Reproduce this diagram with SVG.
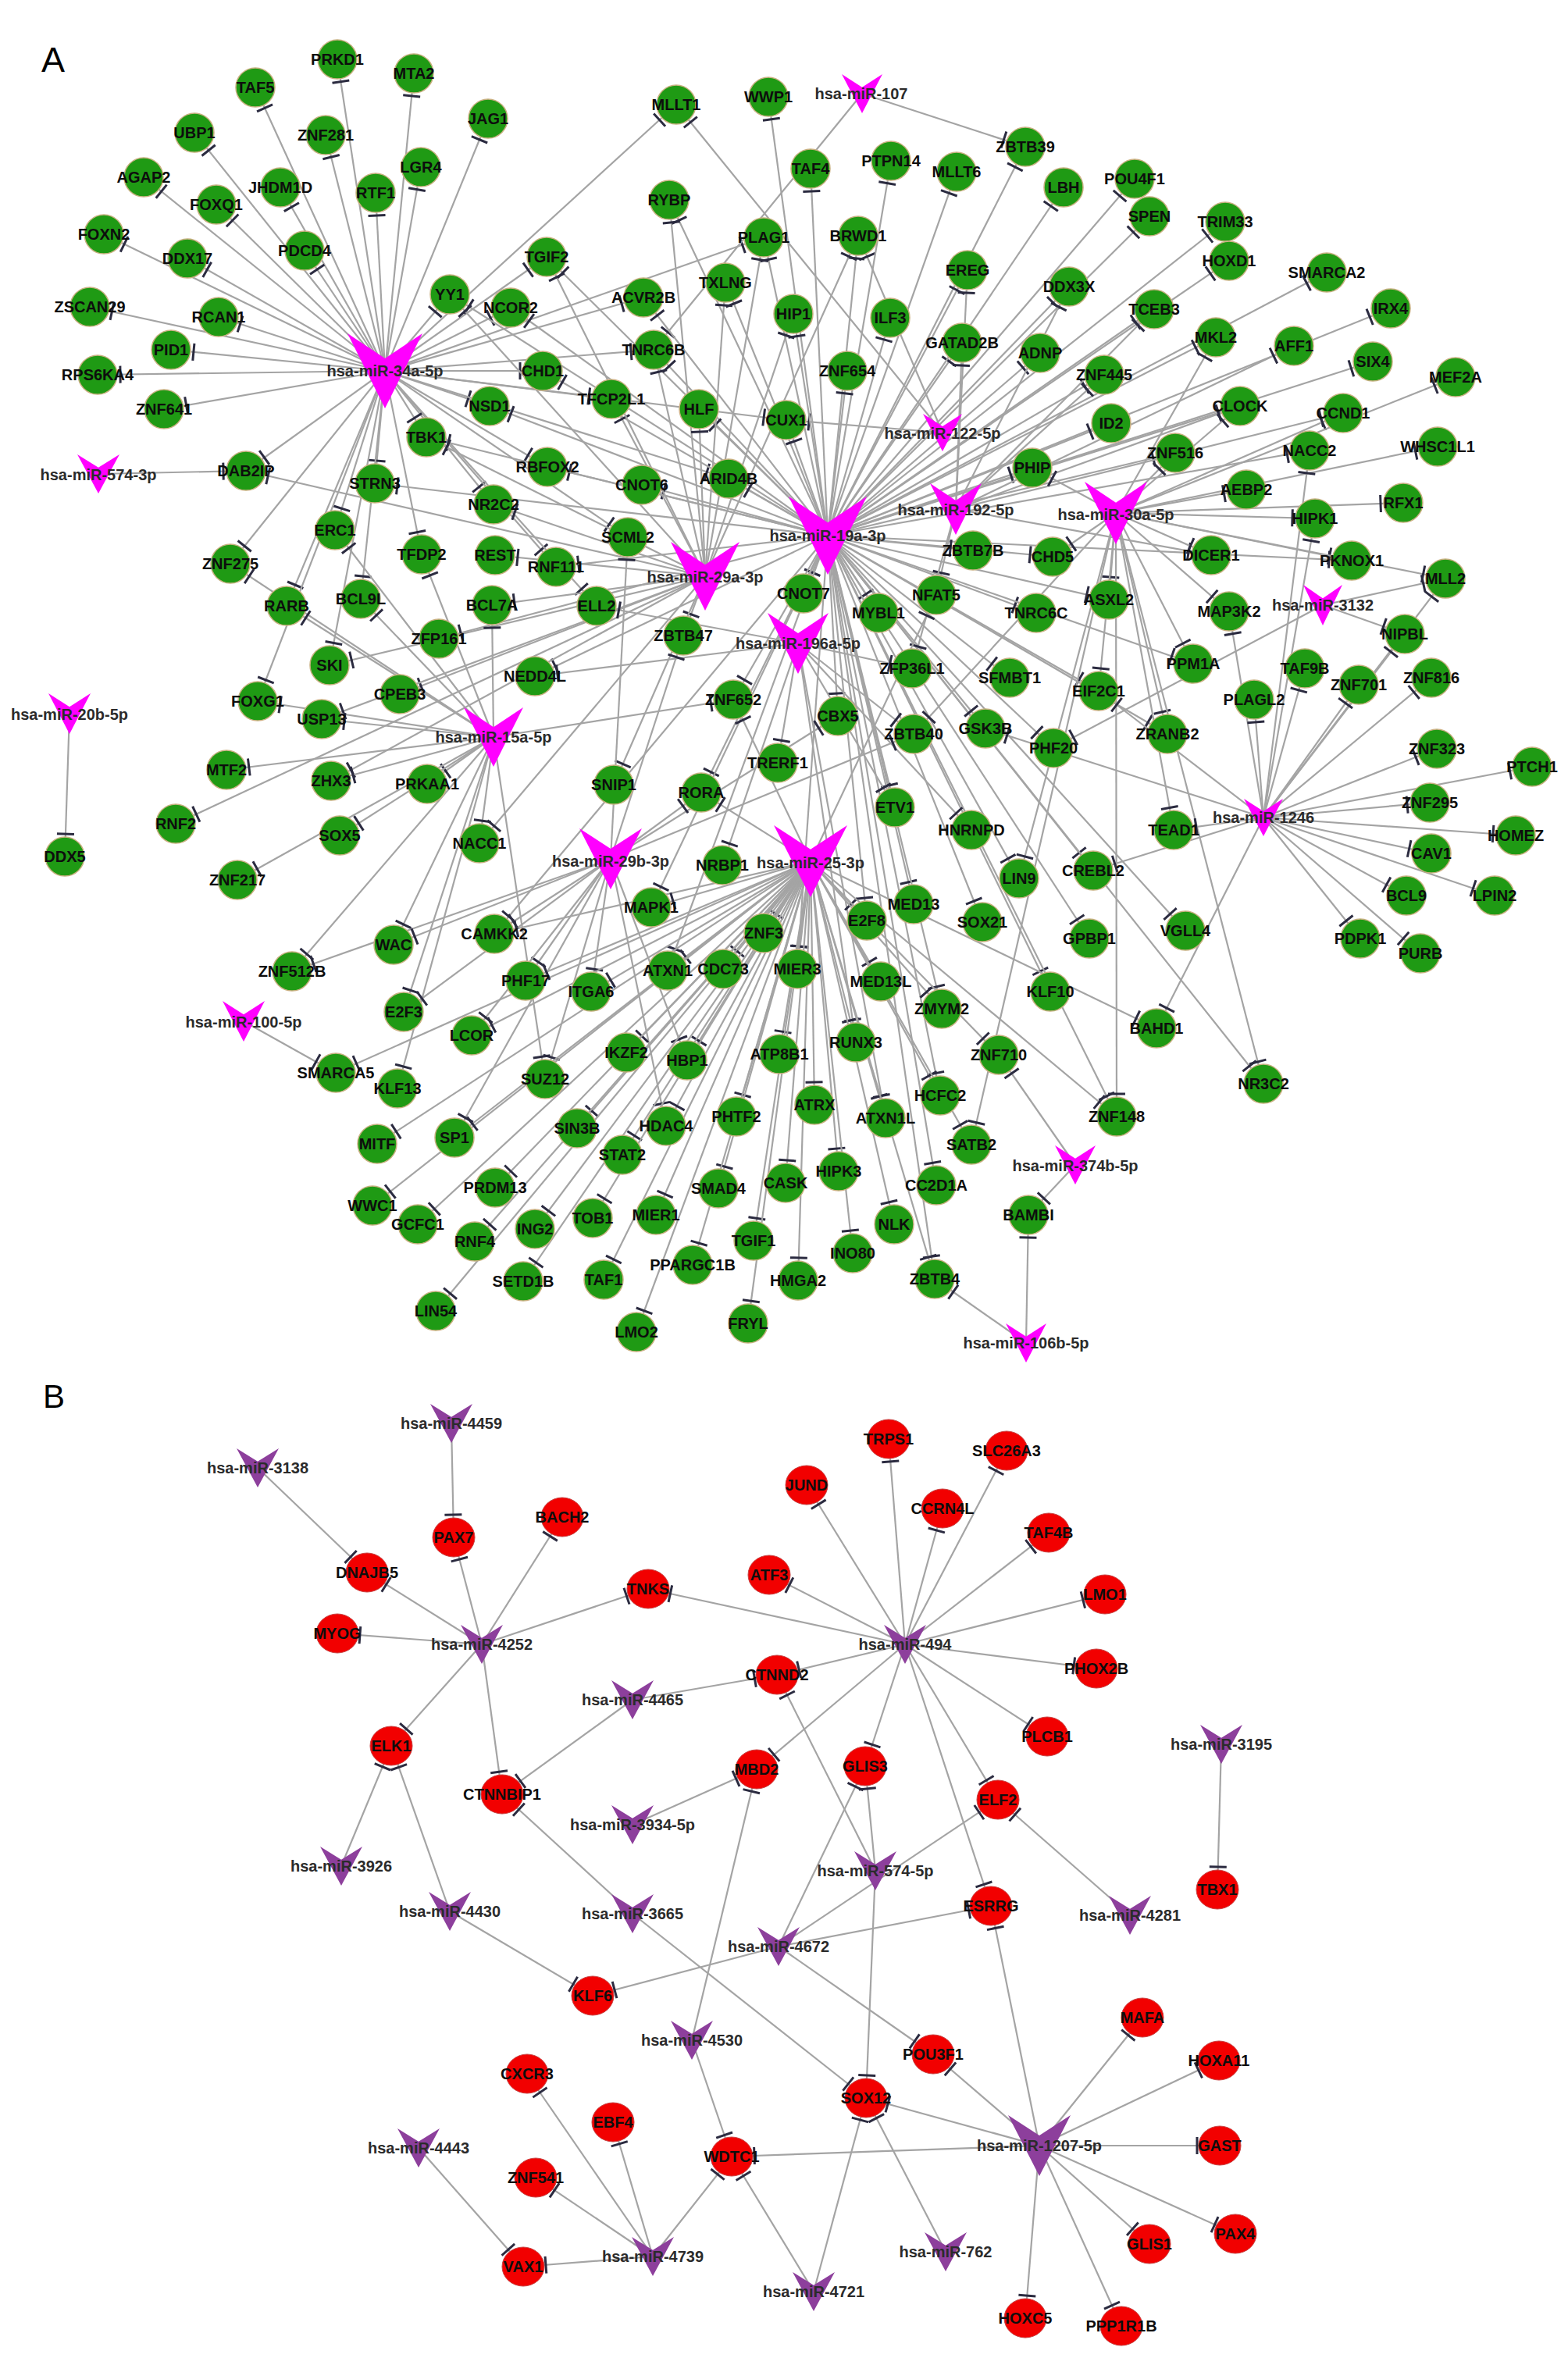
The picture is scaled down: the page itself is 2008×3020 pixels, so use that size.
<svg xmlns="http://www.w3.org/2000/svg" width="2008" height="3020" viewBox="0 0 2008 3020">
<style>
.n circle{fill:#1f9a14;stroke:#c8b080;stroke-width:1.5}
.r ellipse{fill:#f20000;stroke:#c84040;stroke-width:1}
.h use{fill:#ff00ff}
.q use{fill:#8d3f9c}
text{font-family:"Liberation Sans",Arial,sans-serif;font-weight:bold;font-size:20px;text-anchor:middle;fill:#0d0d0d}
.h text,.q text{fill:#2b2b2b}
.e path{stroke:#a4a4a4;stroke-width:2.2;fill:none;marker-end:url(#tb)}
.lab{font-weight:normal;font-size:45px;text-anchor:start;fill:#000}
</style>
<defs>
<path id="v" d="M-1,-1 L0,-0.3333 L1,-1 L0,1Z"/>
<marker id="tb" viewBox="-40 -14 40 28" refX="0" refY="0" markerWidth="40" markerHeight="28" markerUnits="userSpaceOnUse" orient="auto"><path d="M-29,-11V11" stroke="#2b2b40" stroke-width="3"/></marker>
</defs>
<rect width="2008" height="3020" fill="#fff"/>
<text class="lab" x="53" y="92">A</text>
<text class="lab" x="55" y="1803" style="font-size:42px">B</text>
<g id="connectors" class="e">
<g id="e-34a">
<path d="M493 475L432 76"/><path d="M493 475L530 94"/><path d="M493 475L327 112"/><path d="M493 475L625 152"/><path d="M493 475L249 170"/><path d="M493 475L417 173"/><path d="M493 475L539 214"/><path d="M493 475L184 227"/><path d="M493 475L359 240"/><path d="M493 475L481 247"/><path d="M493 475L277 262"/><path d="M493 475L133 300"/><path d="M493 475L390 321"/><path d="M493 475L240 331"/><path d="M493 475L115 393"/><path d="M493 475L280 406"/><path d="M493 475L219 448"/><path d="M493 475L125 480"/><path d="M493 475L210 524"/><path d="M493 475L576 377"/><path d="M493 475L654 394"/><path d="M493 475L700 329"/><path d="M493 475L627 520"/><path d="M493 475L695 475"/><path d="M493 475L866 134"/><path d="M493 475L978 304"/><path d="M493 475L824 381"/><path d="M493 475L837 448"/><path d="M493 475L783 511"/><path d="M493 475L1007 538"/><path d="M493 475L315 603"/><path d="M493 475L480 619"/><path d="M493 475L632 646"/><path d="M493 475L429 679"/><path d="M493 475L295 722"/><path d="M493 475L540 710"/><path d="M493 475L367 776"/><path d="M493 475L462 767"/><path d="M493 475L422 852"/><path d="M493 475L330 898"/><path d="M493 475L701 598"/><path d="M493 475L933 613"/><path d="M493 475L804 688"/><path d="M493 475L712 726"/><path d="M493 475L764 776"/><path d="M493 475L546 560"/>
</g>
<g id="e-small">
<path d="M1104 120L837 448"/><path d="M1104 120L1313 188"/>
<path d="M1207 554L866 134"/><path d="M1207 554L1099 302"/><path d="M1207 554L1007 538"/>
<path d="M126 607L315 603"/>
<path d="M89 914L83 1097"/>
<path d="M312 1308L430 1374"/>
<path d="M1694 775L1851 741"/><path d="M1694 775L1799 812"/><path d="M1694 775L1349 958"/>
<path d="M1377 1492L1279 1351"/><path d="M1377 1492L1317 1556"/>
<path d="M1314 1720L1317 1556"/><path d="M1314 1720L1197 1638"/>
</g>
<g id="e-19a">
<path d="M1060 686L576 377"/><path d="M1060 686L654 394"/><path d="M1060 686L700 329"/><path d="M1060 686L695 475"/><path d="M1060 686L627 520"/><path d="M1060 686L984 124"/><path d="M1060 686L1038 216"/><path d="M1060 686L1141 206"/><path d="M1060 686L1225 220"/><path d="M1060 686L1313 188"/><path d="M1060 686L857 256"/><path d="M1060 686L978 304"/><path d="M1060 686L1099 302"/><path d="M1060 686L1239 346"/><path d="M1060 686L929 362"/><path d="M1060 686L824 381"/><path d="M1060 686L837 448"/><path d="M1060 686L1016 402"/><path d="M1060 686L1140 407"/><path d="M1060 686L1232 439"/><path d="M1060 686L1085 475"/><path d="M1060 686L895 524"/><path d="M1060 686L1007 538"/><path d="M1060 686L1332 452"/><path d="M1060 686L1369 367"/><path d="M1060 686L1362 240"/><path d="M1060 686L1453 229"/><path d="M1060 686L1472 277"/><path d="M1060 686L1569 284"/><path d="M1060 686L1574 334"/><path d="M1060 686L1699 349"/><path d="M1060 686L1478 396"/><path d="M1060 686L1781 395"/><path d="M1060 686L1557 432"/><path d="M1060 686L1758 463"/><path d="M1060 686L1414 480"/><path d="M1060 686L1588 520"/><path d="M1060 686L1423 542"/><path d="M1060 686L1505 580"/><path d="M1060 686L1677 577"/><path d="M1060 686L1322 599"/><path d="M1060 686L1348 713"/><path d="M1060 686L1731 718"/><path d="M1060 686L1420 768"/><path d="M1060 686L1327 785"/><path d="M1060 686L1407 885"/><path d="M1060 686L1495 940"/><path d="M1060 686L1349 958"/><path d="M1060 686L1400 1115"/><path d="M1060 686L1395 1202"/><path d="M1060 686L1518 1192"/><path d="M1060 686L1345 1270"/><path d="M1060 686L1618 1388"/><path d="M1060 686L1430 1430"/><path d="M1060 686L480 619"/><path d="M1060 686L701 598"/><path d="M1060 686L822 621"/><path d="M1060 686L933 613"/><path d="M1060 686L712 726"/><path d="M1060 686L1029 760"/><path d="M1060 686L1125 785"/><path d="M1060 686L1246 705"/><path d="M1060 686L562 818"/><path d="M1060 686L685 866"/><path d="M1060 686L1293 868"/><path d="M1060 686L939 896"/><path d="M1060 686L1073 917"/><path d="M1060 686L1262 933"/><path d="M1060 686L898 1015"/><path d="M1060 686L1146 1034"/><path d="M1060 686L1305 1125"/><path d="M1060 686L834 1162"/><path d="M1060 686L1170 1158"/><path d="M1060 686L1110 1179"/><path d="M1060 686L1258 1181"/><path d="M1060 686L855 1243"/><path d="M1060 686L1021 1241"/><path d="M1060 686L1206 1292"/><path d="M1060 686L1204 1403"/><path d="M1060 686L1199 1518"/><path d="M1060 686L1197 1638"/><path d="M1060 686L546 560"/><path d="M1060 686L633 1196"/><path d="M1060 686L1528 850"/>
</g>
<g id="e-192">
<path d="M1224 652L1239 346"/><path d="M1224 652L1232 439"/><path d="M1224 652L1369 367"/><path d="M1224 652L1478 396"/><path d="M1224 652L1414 480"/><path d="M1224 652L1588 520"/><path d="M1224 652L1720 529"/><path d="M1224 652L1657 443"/><path d="M1224 652L1551 711"/><path d="M1224 652L1199 762"/><path d="M1224 652L1168 856"/>
</g>
<g id="e-30a">
<path d="M1429 657L1557 432"/><path d="M1429 657L1588 520"/><path d="M1429 657L1720 529"/><path d="M1429 657L1864 483"/><path d="M1429 657L1505 580"/><path d="M1429 657L1841 572"/><path d="M1429 657L1322 599"/><path d="M1429 657L1596 627"/><path d="M1429 657L1797 644"/><path d="M1429 657L1684 664"/><path d="M1429 657L1348 713"/><path d="M1429 657L1551 711"/><path d="M1429 657L1731 718"/><path d="M1429 657L1851 741"/><path d="M1429 657L1420 768"/><path d="M1429 657L1574 783"/><path d="M1429 657L1528 850"/><path d="M1429 657L1407 885"/><path d="M1429 657L1495 940"/><path d="M1429 657L1503 1063"/><path d="M1429 657L1618 1388"/><path d="M1429 657L1430 1430"/><path d="M1429 657L1170 940"/><path d="M1429 657L1244 1466"/><path d="M1429 657L1305 1125"/>
</g>
<g id="e-29a">
<path d="M903 738L857 256"/><path d="M903 738L978 304"/><path d="M903 738L1099 302"/><path d="M903 738L929 362"/><path d="M903 738L837 448"/><path d="M903 738L1016 402"/><path d="M903 738L783 511"/><path d="M903 738L895 524"/><path d="M903 738L700 329"/><path d="M903 738L315 603"/><path d="M903 738L632 646"/><path d="M903 738L634 711"/><path d="M903 738L630 775"/><path d="M903 738L422 852"/><path d="M903 738L512 889"/><path d="M903 738L412 921"/><path d="M903 738L424 1000"/><path d="M903 738L225 1055"/><path d="M903 738L614 1080"/><path d="M903 738L875 814"/><path d="M903 738L786 1005"/><path d="M903 738L546 560"/><path d="M903 738L576 377"/>
</g>
<g id="e-196a">
<path d="M1022 824L764 776"/><path d="M1022 824L1168 856"/><path d="M1022 824L996 977"/><path d="M1022 824L1244 1063"/><path d="M1022 824L925 1108"/><path d="M1022 824L1146 1034"/><path d="M1022 824L1170 940"/><path d="M1022 824L1096 1335"/><path d="M1022 824L685 866"/><path d="M1022 824L1134 1432"/>
</g>
<g id="e-15a">
<path d="M632 944L429 679"/><path d="M632 944L295 722"/><path d="M632 944L540 710"/><path d="M632 944L367 776"/><path d="M632 944L462 767"/><path d="M632 944L630 775"/><path d="M632 944L330 898"/><path d="M632 944L412 921"/><path d="M632 944L290 986"/><path d="M632 944L424 1000"/><path d="M632 944L547 1004"/><path d="M632 944L435 1070"/><path d="M632 944L614 1080"/><path d="M632 944L304 1127"/><path d="M632 944L509 1394"/><path d="M632 944L517 1296"/><path d="M632 944L374 1244"/><path d="M632 944L504 1210"/><path d="M632 944L698 1382"/><path d="M632 944L939 896"/>
</g>
<g id="e-1246">
<path d="M1618 1047L1677 577"/><path d="M1618 1047L1684 664"/><path d="M1618 1047L1851 741"/><path d="M1618 1047L1574 783"/><path d="M1618 1047L1799 812"/><path d="M1618 1047L1671 856"/><path d="M1618 1047L1740 877"/><path d="M1618 1047L1833 868"/><path d="M1618 1047L1407 885"/><path d="M1618 1047L1606 896"/><path d="M1618 1047L1840 959"/><path d="M1618 1047L1962 982"/><path d="M1618 1047L1831 1028"/><path d="M1618 1047L1503 1063"/><path d="M1618 1047L1941 1070"/><path d="M1618 1047L1833 1093"/><path d="M1618 1047L1400 1115"/><path d="M1618 1047L1801 1147"/><path d="M1618 1047L1914 1147"/><path d="M1618 1047L1742 1202"/><path d="M1618 1047L1819 1221"/><path d="M1618 1047L1481 1317"/><path d="M1618 1047L1262 933"/>
</g>
<g id="e-29b">
<path d="M782 1100L804 688"/><path d="M782 1100L875 814"/><path d="M782 1100L1073 917"/><path d="M782 1100L1170 940"/><path d="M782 1100L898 1015"/><path d="M782 1100L673 1256"/><path d="M782 1100L757 1270"/><path d="M782 1100L880 1358"/><path d="M782 1100L698 1382"/><path d="M782 1100L853 1442"/><path d="M782 1100L582 1457"/><path d="M782 1100L517 1296"/><path d="M782 1100L374 1244"/><path d="M782 1100L504 1210"/><path d="M782 1100L633 1196"/><path d="M782 1100L604 1326"/>
</g>
<g id="e-25">
<path d="M1038 1103L1199 762"/><path d="M1038 1103L939 896"/><path d="M1038 1103L898 1015"/><path d="M1038 1103L978 1195"/><path d="M1038 1103L1110 1179"/><path d="M1038 1103L855 1243"/><path d="M1038 1103L926 1241"/><path d="M1038 1103L1021 1241"/><path d="M1038 1103L1128 1257"/><path d="M1038 1103L1206 1292"/><path d="M1038 1103L1096 1335"/><path d="M1038 1103L802 1348"/><path d="M1038 1103L880 1358"/><path d="M1038 1103L998 1350"/><path d="M1038 1103L1279 1351"/><path d="M1038 1103L1204 1403"/><path d="M1038 1103L1043 1415"/><path d="M1038 1103L943 1430"/><path d="M1038 1103L1134 1432"/><path d="M1038 1103L1244 1466"/><path d="M1038 1103L739 1445"/><path d="M1038 1103L853 1442"/><path d="M1038 1103L797 1479"/><path d="M1038 1103L1074 1500"/><path d="M1038 1103L1006 1515"/><path d="M1038 1103L920 1522"/><path d="M1038 1103L759 1560"/><path d="M1038 1103L840 1556"/><path d="M1038 1103L1145 1568"/><path d="M1038 1103L965 1589"/><path d="M1038 1103L1092 1605"/><path d="M1038 1103L887 1620"/><path d="M1038 1103L773 1639"/><path d="M1038 1103L1022 1640"/><path d="M1038 1103L815 1706"/><path d="M1038 1103L958 1695"/><path d="M1038 1103L685 1574"/><path d="M1038 1103L670 1641"/><path d="M1038 1103L608 1590"/><path d="M1038 1103L634 1521"/><path d="M1038 1103L558 1679"/><path d="M1038 1103L535 1568"/><path d="M1038 1103L477 1544"/><path d="M1038 1103L483 1465"/><path d="M1038 1103L582 1457"/><path d="M1038 1103L430 1374"/><path d="M1038 1103L604 1326"/><path d="M1038 1103L757 1270"/><path d="M1038 1103L673 1256"/><path d="M1038 1103L633 1196"/><path d="M1038 1103L1481 1317"/><path d="M1038 1103L1430 1430"/><path d="M1038 1103L834 1162"/><path d="M1038 1103L1197 1638"/>
</g>
<g id="e-B">
<path d="M578 1823L581 1969"/>
<path d="M330 1880L470 2014"/>
<path d="M617 2106L581 1969"/><path d="M617 2106L720 1943"/><path d="M617 2106L470 2014"/><path d="M617 2106L432 2092"/><path d="M617 2106L830 2035"/><path d="M617 2106L501 2236"/><path d="M617 2106L643 2298"/>
<path d="M1159 2106L830 2035"/><path d="M1159 2106L985 2017"/><path d="M1159 2106L1033 1902"/><path d="M1159 2106L1138 1843"/><path d="M1159 2106L1207 1932"/><path d="M1159 2106L1289 1858"/><path d="M1159 2106L1343 1963"/><path d="M1159 2106L1415 2042"/><path d="M1159 2106L1404 2137"/><path d="M1159 2106L1341 2224"/><path d="M1159 2106L1278 2305"/><path d="M1159 2106L1269 2441"/><path d="M1159 2106L1108 2262"/><path d="M1159 2106L995 2145"/><path d="M1159 2106L969 2266"/>
<path d="M810 2177L995 2145"/><path d="M810 2177L643 2298"/>
<path d="M810 2337L969 2266"/>
<path d="M886 2613L969 2266"/><path d="M886 2613L937 2762"/>
<path d="M437 2390L501 2236"/>
<path d="M576 2448L501 2236"/><path d="M576 2448L759 2556"/>
<path d="M997 2493L759 2556"/><path d="M997 2493L1108 2262"/><path d="M997 2493L1269 2441"/><path d="M997 2493L1195 2631"/><path d="M997 2493L1278 2305"/>
<path d="M810 2451L643 2298"/><path d="M810 2451L1109 2687"/>
<path d="M1121 2396L995 2145"/><path d="M1121 2396L1108 2262"/><path d="M1121 2396L1109 2687"/>
<path d="M1447 2453L1278 2305"/>
<path d="M1564 2234L1559 2420"/>
<path d="M836 2890L670 2903"/><path d="M836 2890L686 2789"/><path d="M836 2890L675 2656"/><path d="M836 2890L785 2718"/><path d="M836 2890L937 2762"/>
<path d="M536 2751L670 2903"/>
<path d="M1331 2748L937 2762"/><path d="M1331 2748L1109 2687"/><path d="M1331 2748L1195 2631"/><path d="M1331 2748L1269 2441"/><path d="M1331 2748L1463 2584"/><path d="M1331 2748L1561 2639"/><path d="M1331 2748L1562 2748"/><path d="M1331 2748L1582 2861"/><path d="M1331 2748L1472 2874"/><path d="M1331 2748L1436 2979"/><path d="M1331 2748L1313 2969"/>
<path d="M1211 2884L1109 2687"/>
<path d="M1042 2935L937 2762"/><path d="M1042 2935L1109 2687"/>
</g>
</g>
<g id="nodesA">
<g id="PRKD1" class="n"><circle cx="432" cy="76" r="25"/><text x="432" y="83">PRKD1</text></g>
<g id="MTA2" class="n"><circle cx="530" cy="94" r="25"/><text x="530" y="101">MTA2</text></g>
<g id="TAF5" class="n"><circle cx="327" cy="112" r="25"/><text x="327" y="119">TAF5</text></g>
<g id="JAG1" class="n"><circle cx="625" cy="152" r="25"/><text x="625" y="159">JAG1</text></g>
<g id="UBP1" class="n"><circle cx="249" cy="170" r="25"/><text x="249" y="177">UBP1</text></g>
<g id="ZNF281" class="n"><circle cx="417" cy="173" r="25"/><text x="417" y="180">ZNF281</text></g>
<g id="LGR4" class="n"><circle cx="539" cy="214" r="25"/><text x="539" y="221">LGR4</text></g>
<g id="AGAP2" class="n"><circle cx="184" cy="227" r="25"/><text x="184" y="234">AGAP2</text></g>
<g id="JHDM1D" class="n"><circle cx="359" cy="240" r="25"/><text x="359" y="247">JHDM1D</text></g>
<g id="RTF1" class="n"><circle cx="481" cy="247" r="25"/><text x="481" y="254">RTF1</text></g>
<g id="FOXQ1" class="n"><circle cx="277" cy="262" r="25"/><text x="277" y="269">FOXQ1</text></g>
<g id="FOXN2" class="n"><circle cx="133" cy="300" r="25"/><text x="133" y="307">FOXN2</text></g>
<g id="PDCD4" class="n"><circle cx="390" cy="321" r="25"/><text x="390" y="328">PDCD4</text></g>
<g id="DDX17" class="n"><circle cx="240" cy="331" r="25"/><text x="240" y="338">DDX17</text></g>
<g id="ZSCAN29" class="n"><circle cx="115" cy="393" r="25"/><text x="115" y="400">ZSCAN29</text></g>
<g id="RCAN1" class="n"><circle cx="280" cy="406" r="25"/><text x="280" y="413">RCAN1</text></g>
<g id="YY1" class="n"><circle cx="576" cy="377" r="25"/><text x="576" y="384">YY1</text></g>
<g id="NCOR2" class="n"><circle cx="654" cy="394" r="25"/><text x="654" y="401">NCOR2</text></g>
<g id="TGIF2" class="n"><circle cx="700" cy="329" r="25"/><text x="700" y="336">TGIF2</text></g>
<g id="PID1" class="n"><circle cx="219" cy="448" r="25"/><text x="219" y="455">PID1</text></g>
<g id="RPS6KA4" class="n"><circle cx="125" cy="480" r="25"/><text x="125" y="487">RPS6KA4</text></g>
<g id="ZNF641" class="n"><circle cx="210" cy="524" r="25"/><text x="210" y="531">ZNF641</text></g>
<g id="NSD1" class="n"><circle cx="627" cy="520" r="25"/><text x="627" y="527">NSD1</text></g>
<g id="TBK1" class="n"><circle cx="546" cy="560" r="25"/><text x="546" y="567">TBK1</text></g>
<g id="CHD1" class="n"><circle cx="695" cy="475" r="25"/><text x="695" y="482">CHD1</text></g>
<g id="MLLT1" class="n"><circle cx="866" cy="134" r="25"/><text x="866" y="141">MLLT1</text></g>
<g id="WWP1" class="n"><circle cx="984" cy="124" r="25"/><text x="984" y="131">WWP1</text></g>
<g id="ZBTB39" class="n"><circle cx="1313" cy="188" r="25"/><text x="1313" y="195">ZBTB39</text></g>
<g id="TAF4" class="n"><circle cx="1038" cy="216" r="25"/><text x="1038" y="223">TAF4</text></g>
<g id="PTPN14" class="n"><circle cx="1141" cy="206" r="25"/><text x="1141" y="213">PTPN14</text></g>
<g id="MLLT6" class="n"><circle cx="1225" cy="220" r="25"/><text x="1225" y="227">MLLT6</text></g>
<g id="RYBP" class="n"><circle cx="857" cy="256" r="25"/><text x="857" y="263">RYBP</text></g>
<g id="PLAG1" class="n"><circle cx="978" cy="304" r="25"/><text x="978" y="311">PLAG1</text></g>
<g id="BRWD1" class="n"><circle cx="1099" cy="302" r="25"/><text x="1099" y="309">BRWD1</text></g>
<g id="EREG" class="n"><circle cx="1239" cy="346" r="25"/><text x="1239" y="353">EREG</text></g>
<g id="TXLNG" class="n"><circle cx="929" cy="362" r="25"/><text x="929" y="369">TXLNG</text></g>
<g id="ACVR2B" class="n"><circle cx="824" cy="381" r="25"/><text x="824" y="388">ACVR2B</text></g>
<g id="HIP1" class="n"><circle cx="1016" cy="402" r="25"/><text x="1016" y="409">HIP1</text></g>
<g id="ILF3" class="n"><circle cx="1140" cy="407" r="25"/><text x="1140" y="414">ILF3</text></g>
<g id="GATAD2B" class="n"><circle cx="1232" cy="439" r="25"/><text x="1232" y="446">GATAD2B</text></g>
<g id="TNRC6B" class="n"><circle cx="837" cy="448" r="25"/><text x="837" y="455">TNRC6B</text></g>
<g id="ZNF654" class="n"><circle cx="1085" cy="475" r="25"/><text x="1085" y="482">ZNF654</text></g>
<g id="TFCP2L1" class="n"><circle cx="783" cy="511" r="25"/><text x="783" y="518">TFCP2L1</text></g>
<g id="HLF" class="n"><circle cx="895" cy="524" r="25"/><text x="895" y="531">HLF</text></g>
<g id="CUX1" class="n"><circle cx="1007" cy="538" r="25"/><text x="1007" y="545">CUX1</text></g>
<g id="LBH" class="n"><circle cx="1362" cy="240" r="25"/><text x="1362" y="247">LBH</text></g>
<g id="POU4F1" class="n"><circle cx="1453" cy="229" r="25"/><text x="1453" y="236">POU4F1</text></g>
<g id="SPEN" class="n"><circle cx="1472" cy="277" r="25"/><text x="1472" y="284">SPEN</text></g>
<g id="TRIM33" class="n"><circle cx="1569" cy="284" r="25"/><text x="1569" y="291">TRIM33</text></g>
<g id="HOXD1" class="n"><circle cx="1574" cy="334" r="25"/><text x="1574" y="341">HOXD1</text></g>
<g id="SMARCA2" class="n"><circle cx="1699" cy="349" r="25"/><text x="1699" y="356">SMARCA2</text></g>
<g id="DDX3X" class="n"><circle cx="1369" cy="367" r="25"/><text x="1369" y="374">DDX3X</text></g>
<g id="TCEB3" class="n"><circle cx="1478" cy="396" r="25"/><text x="1478" y="403">TCEB3</text></g>
<g id="IRX4" class="n"><circle cx="1781" cy="395" r="25"/><text x="1781" y="402">IRX4</text></g>
<g id="MKL2" class="n"><circle cx="1557" cy="432" r="25"/><text x="1557" y="439">MKL2</text></g>
<g id="AFF1" class="n"><circle cx="1657" cy="443" r="25"/><text x="1657" y="450">AFF1</text></g>
<g id="ADNP" class="n"><circle cx="1332" cy="452" r="25"/><text x="1332" y="459">ADNP</text></g>
<g id="SIX4" class="n"><circle cx="1758" cy="463" r="25"/><text x="1758" y="470">SIX4</text></g>
<g id="ZNF445" class="n"><circle cx="1414" cy="480" r="25"/><text x="1414" y="487">ZNF445</text></g>
<g id="MEF2A" class="n"><circle cx="1864" cy="483" r="25"/><text x="1864" y="490">MEF2A</text></g>
<g id="CLOCK" class="n"><circle cx="1588" cy="520" r="25"/><text x="1588" y="527">CLOCK</text></g>
<g id="CCND1" class="n"><circle cx="1720" cy="529" r="25"/><text x="1720" y="536">CCND1</text></g>
<g id="ID2" class="n"><circle cx="1423" cy="542" r="25"/><text x="1423" y="549">ID2</text></g>
<g id="ZNF516" class="n"><circle cx="1505" cy="580" r="25"/><text x="1505" y="587">ZNF516</text></g>
<g id="NACC2" class="n"><circle cx="1677" cy="577" r="25"/><text x="1677" y="584">NACC2</text></g>
<g id="WHSC1L1" class="n"><circle cx="1841" cy="572" r="25"/><text x="1841" y="579">WHSC1L1</text></g>
<g id="PHIP" class="n"><circle cx="1322" cy="599" r="25"/><text x="1322" y="606">PHIP</text></g>
<g id="DAB2IP" class="n"><circle cx="315" cy="603" r="25"/><text x="315" y="610">DAB2IP</text></g>
<g id="STRN3" class="n"><circle cx="480" cy="619" r="25"/><text x="480" y="626">STRN3</text></g>
<g id="NR2C2" class="n"><circle cx="632" cy="646" r="25"/><text x="632" y="653">NR2C2</text></g>
<g id="ERC1" class="n"><circle cx="429" cy="679" r="25"/><text x="429" y="686">ERC1</text></g>
<g id="ZNF275" class="n"><circle cx="295" cy="722" r="25"/><text x="295" y="729">ZNF275</text></g>
<g id="TFDP2" class="n"><circle cx="540" cy="710" r="25"/><text x="540" y="717">TFDP2</text></g>
<g id="REST" class="n"><circle cx="634" cy="711" r="25"/><text x="634" y="718">REST</text></g>
<g id="RARB" class="n"><circle cx="367" cy="776" r="25"/><text x="367" y="783">RARB</text></g>
<g id="BCL9L" class="n"><circle cx="462" cy="767" r="25"/><text x="462" y="774">BCL9L</text></g>
<g id="BCL7A" class="n"><circle cx="630" cy="775" r="25"/><text x="630" y="782">BCL7A</text></g>
<g id="ZFP161" class="n"><circle cx="562" cy="818" r="25"/><text x="562" y="825">ZFP161</text></g>
<g id="SKI" class="n"><circle cx="422" cy="852" r="25"/><text x="422" y="859">SKI</text></g>
<g id="NEDD4L" class="n"><circle cx="685" cy="866" r="25"/><text x="685" y="873">NEDD4L</text></g>
<g id="CPEB3" class="n"><circle cx="512" cy="889" r="25"/><text x="512" y="896">CPEB3</text></g>
<g id="FOXG1" class="n"><circle cx="330" cy="898" r="25"/><text x="330" y="905">FOXG1</text></g>
<g id="USP13" class="n"><circle cx="412" cy="921" r="25"/><text x="412" y="928">USP13</text></g>
<g id="MTF2" class="n"><circle cx="290" cy="986" r="25"/><text x="290" y="993">MTF2</text></g>
<g id="ZHX3" class="n"><circle cx="424" cy="1000" r="25"/><text x="424" y="1007">ZHX3</text></g>
<g id="PRKAA1" class="n"><circle cx="547" cy="1004" r="25"/><text x="547" y="1011">PRKAA1</text></g>
<g id="RNF2" class="n"><circle cx="225" cy="1055" r="25"/><text x="225" y="1062">RNF2</text></g>
<g id="SOX5" class="n"><circle cx="435" cy="1070" r="25"/><text x="435" y="1077">SOX5</text></g>
<g id="NACC1" class="n"><circle cx="614" cy="1080" r="25"/><text x="614" y="1087">NACC1</text></g>
<g id="DDX5" class="n"><circle cx="83" cy="1097" r="25"/><text x="83" y="1104">DDX5</text></g>
<g id="ZNF217" class="n"><circle cx="304" cy="1127" r="25"/><text x="304" y="1134">ZNF217</text></g>
<g id="RBFOX2" class="n"><circle cx="701" cy="598" r="25"/><text x="701" y="605">RBFOX2</text></g>
<g id="CNOT6" class="n"><circle cx="822" cy="621" r="25"/><text x="822" y="628">CNOT6</text></g>
<g id="ARID4B" class="n"><circle cx="933" cy="613" r="25"/><text x="933" y="620">ARID4B</text></g>
<g id="SCML2" class="n"><circle cx="804" cy="688" r="25"/><text x="804" y="695">SCML2</text></g>
<g id="RNF111" class="n"><circle cx="712" cy="726" r="25"/><text x="712" y="733">RNF111</text></g>
<g id="ELL2" class="n"><circle cx="764" cy="776" r="25"/><text x="764" y="783">ELL2</text></g>
<g id="CNOT7" class="n"><circle cx="1029" cy="760" r="25"/><text x="1029" y="767">CNOT7</text></g>
<g id="MYBL1" class="n"><circle cx="1125" cy="785" r="25"/><text x="1125" y="792">MYBL1</text></g>
<g id="NFAT5" class="n"><circle cx="1199" cy="762" r="25"/><text x="1199" y="769">NFAT5</text></g>
<g id="ZBTB7B" class="n"><circle cx="1246" cy="705" r="25"/><text x="1246" y="712">ZBTB7B</text></g>
<g id="ZBTB47" class="n"><circle cx="875" cy="814" r="25"/><text x="875" y="821">ZBTB47</text></g>
<g id="ZFP36L1" class="n"><circle cx="1168" cy="856" r="25"/><text x="1168" y="863">ZFP36L1</text></g>
<g id="SFMBT1" class="n"><circle cx="1293" cy="868" r="25"/><text x="1293" y="875">SFMBT1</text></g>
<g id="ZNF652" class="n"><circle cx="939" cy="896" r="25"/><text x="939" y="903">ZNF652</text></g>
<g id="CBX5" class="n"><circle cx="1073" cy="917" r="25"/><text x="1073" y="924">CBX5</text></g>
<g id="ZBTB40" class="n"><circle cx="1170" cy="940" r="25"/><text x="1170" y="947">ZBTB40</text></g>
<g id="GSK3B" class="n"><circle cx="1262" cy="933" r="25"/><text x="1262" y="940">GSK3B</text></g>
<g id="TRERF1" class="n"><circle cx="996" cy="977" r="25"/><text x="996" y="984">TRERF1</text></g>
<g id="SNIP1" class="n"><circle cx="786" cy="1005" r="25"/><text x="786" y="1012">SNIP1</text></g>
<g id="RORA" class="n"><circle cx="898" cy="1015" r="25"/><text x="898" y="1022">RORA</text></g>
<g id="ETV1" class="n"><circle cx="1146" cy="1034" r="25"/><text x="1146" y="1041">ETV1</text></g>
<g id="HNRNPD" class="n"><circle cx="1244" cy="1063" r="25"/><text x="1244" y="1070">HNRNPD</text></g>
<g id="LIN9" class="n"><circle cx="1305" cy="1125" r="25"/><text x="1305" y="1132">LIN9</text></g>
<g id="NRBP1" class="n"><circle cx="925" cy="1108" r="25"/><text x="925" y="1115">NRBP1</text></g>
<g id="AEBP2" class="n"><circle cx="1596" cy="627" r="25"/><text x="1596" y="634">AEBP2</text></g>
<g id="RFX1" class="n"><circle cx="1797" cy="644" r="25"/><text x="1797" y="651">RFX1</text></g>
<g id="HIPK1" class="n"><circle cx="1684" cy="664" r="25"/><text x="1684" y="671">HIPK1</text></g>
<g id="CHD5" class="n"><circle cx="1348" cy="713" r="25"/><text x="1348" y="720">CHD5</text></g>
<g id="DICER1" class="n"><circle cx="1551" cy="711" r="25"/><text x="1551" y="718">DICER1</text></g>
<g id="PKNOX1" class="n"><circle cx="1731" cy="718" r="25"/><text x="1731" y="725">PKNOX1</text></g>
<g id="MLL2" class="n"><circle cx="1851" cy="741" r="25"/><text x="1851" y="748">MLL2</text></g>
<g id="ASXL2" class="n"><circle cx="1420" cy="768" r="25"/><text x="1420" y="775">ASXL2</text></g>
<g id="TNRC6C" class="n"><circle cx="1327" cy="785" r="25"/><text x="1327" y="792">TNRC6C</text></g>
<g id="MAP3K2" class="n"><circle cx="1574" cy="783" r="25"/><text x="1574" y="790">MAP3K2</text></g>
<g id="NIPBL" class="n"><circle cx="1799" cy="812" r="25"/><text x="1799" y="819">NIPBL</text></g>
<g id="PPM1A" class="n"><circle cx="1528" cy="850" r="25"/><text x="1528" y="857">PPM1A</text></g>
<g id="TAF9B" class="n"><circle cx="1671" cy="856" r="25"/><text x="1671" y="863">TAF9B</text></g>
<g id="ZNF701" class="n"><circle cx="1740" cy="877" r="25"/><text x="1740" y="884">ZNF701</text></g>
<g id="ZNF816" class="n"><circle cx="1833" cy="868" r="25"/><text x="1833" y="875">ZNF816</text></g>
<g id="EIF2C1" class="n"><circle cx="1407" cy="885" r="25"/><text x="1407" y="892">EIF2C1</text></g>
<g id="PLAGL2" class="n"><circle cx="1606" cy="896" r="25"/><text x="1606" y="903">PLAGL2</text></g>
<g id="ZRANB2" class="n"><circle cx="1495" cy="940" r="25"/><text x="1495" y="947">ZRANB2</text></g>
<g id="PHF20" class="n"><circle cx="1349" cy="958" r="25"/><text x="1349" y="965">PHF20</text></g>
<g id="ZNF323" class="n"><circle cx="1840" cy="959" r="25"/><text x="1840" y="966">ZNF323</text></g>
<g id="PTCH1" class="n"><circle cx="1962" cy="982" r="25"/><text x="1962" y="989">PTCH1</text></g>
<g id="ZNF295" class="n"><circle cx="1831" cy="1028" r="25"/><text x="1831" y="1035">ZNF295</text></g>
<g id="TEAD1" class="n"><circle cx="1503" cy="1063" r="25"/><text x="1503" y="1070">TEAD1</text></g>
<g id="HOMEZ" class="n"><circle cx="1941" cy="1070" r="25"/><text x="1941" y="1077">HOMEZ</text></g>
<g id="CAV1" class="n"><circle cx="1833" cy="1093" r="25"/><text x="1833" y="1100">CAV1</text></g>
<g id="CREBL2" class="n"><circle cx="1400" cy="1115" r="25"/><text x="1400" y="1122">CREBL2</text></g>
<g id="BCL9" class="n"><circle cx="1801" cy="1147" r="25"/><text x="1801" y="1154">BCL9</text></g>
<g id="LPIN2" class="n"><circle cx="1914" cy="1147" r="25"/><text x="1914" y="1154">LPIN2</text></g>
<g id="GPBP1" class="n"><circle cx="1395" cy="1202" r="25"/><text x="1395" y="1209">GPBP1</text></g>
<g id="VGLL4" class="n"><circle cx="1518" cy="1192" r="25"/><text x="1518" y="1199">VGLL4</text></g>
<g id="PDPK1" class="n"><circle cx="1742" cy="1202" r="25"/><text x="1742" y="1209">PDPK1</text></g>
<g id="PURB" class="n"><circle cx="1819" cy="1221" r="25"/><text x="1819" y="1228">PURB</text></g>
<g id="KLF10" class="n"><circle cx="1345" cy="1270" r="25"/><text x="1345" y="1277">KLF10</text></g>
<g id="BAHD1" class="n"><circle cx="1481" cy="1317" r="25"/><text x="1481" y="1324">BAHD1</text></g>
<g id="NR3C2" class="n"><circle cx="1618" cy="1388" r="25"/><text x="1618" y="1395">NR3C2</text></g>
<g id="ZNF148" class="n"><circle cx="1430" cy="1430" r="25"/><text x="1430" y="1437">ZNF148</text></g>
<g id="BAMBI" class="n"><circle cx="1317" cy="1556" r="25"/><text x="1317" y="1563">BAMBI</text></g>
<g id="WAC" class="n"><circle cx="504" cy="1210" r="25"/><text x="504" y="1217">WAC</text></g>
<g id="CAMKK2" class="n"><circle cx="633" cy="1196" r="25"/><text x="633" y="1203">CAMKK2</text></g>
<g id="ZNF512B" class="n"><circle cx="374" cy="1244" r="25"/><text x="374" y="1251">ZNF512B</text></g>
<g id="PHF17" class="n"><circle cx="673" cy="1256" r="25"/><text x="673" y="1263">PHF17</text></g>
<g id="E2F3" class="n"><circle cx="517" cy="1296" r="25"/><text x="517" y="1303">E2F3</text></g>
<g id="LCOR" class="n"><circle cx="604" cy="1326" r="25"/><text x="604" y="1333">LCOR</text></g>
<g id="SMARCA5" class="n"><circle cx="430" cy="1374" r="25"/><text x="430" y="1381">SMARCA5</text></g>
<g id="KLF13" class="n"><circle cx="509" cy="1394" r="25"/><text x="509" y="1401">KLF13</text></g>
<g id="SUZ12" class="n"><circle cx="698" cy="1382" r="25"/><text x="698" y="1389">SUZ12</text></g>
<g id="MITF" class="n"><circle cx="483" cy="1465" r="25"/><text x="483" y="1472">MITF</text></g>
<g id="SP1" class="n"><circle cx="582" cy="1457" r="25"/><text x="582" y="1464">SP1</text></g>
<g id="PRDM13" class="n"><circle cx="634" cy="1521" r="25"/><text x="634" y="1528">PRDM13</text></g>
<g id="WWC1" class="n"><circle cx="477" cy="1544" r="25"/><text x="477" y="1551">WWC1</text></g>
<g id="GCFC1" class="n"><circle cx="535" cy="1568" r="25"/><text x="535" y="1575">GCFC1</text></g>
<g id="RNF4" class="n"><circle cx="608" cy="1590" r="25"/><text x="608" y="1597">RNF4</text></g>
<g id="ING2" class="n"><circle cx="685" cy="1574" r="25"/><text x="685" y="1581">ING2</text></g>
<g id="SETD1B" class="n"><circle cx="670" cy="1641" r="25"/><text x="670" y="1648">SETD1B</text></g>
<g id="LIN54" class="n"><circle cx="558" cy="1679" r="25"/><text x="558" y="1686">LIN54</text></g>
<g id="MAPK1" class="n"><circle cx="834" cy="1162" r="25"/><text x="834" y="1169">MAPK1</text></g>
<g id="ZNF3" class="n"><circle cx="978" cy="1195" r="25"/><text x="978" y="1202">ZNF3</text></g>
<g id="MED13" class="n"><circle cx="1170" cy="1158" r="25"/><text x="1170" y="1165">MED13</text></g>
<g id="E2F8" class="n"><circle cx="1110" cy="1179" r="25"/><text x="1110" y="1186">E2F8</text></g>
<g id="SOX21" class="n"><circle cx="1258" cy="1181" r="25"/><text x="1258" y="1188">SOX21</text></g>
<g id="ITGA6" class="n"><circle cx="757" cy="1270" r="25"/><text x="757" y="1277">ITGA6</text></g>
<g id="ATXN1" class="n"><circle cx="855" cy="1243" r="25"/><text x="855" y="1250">ATXN1</text></g>
<g id="CDC73" class="n"><circle cx="926" cy="1241" r="25"/><text x="926" y="1248">CDC73</text></g>
<g id="MIER3" class="n"><circle cx="1021" cy="1241" r="25"/><text x="1021" y="1248">MIER3</text></g>
<g id="MED13L" class="n"><circle cx="1128" cy="1257" r="25"/><text x="1128" y="1264">MED13L</text></g>
<g id="ZMYM2" class="n"><circle cx="1206" cy="1292" r="25"/><text x="1206" y="1299">ZMYM2</text></g>
<g id="RUNX3" class="n"><circle cx="1096" cy="1335" r="25"/><text x="1096" y="1342">RUNX3</text></g>
<g id="IKZF2" class="n"><circle cx="802" cy="1348" r="25"/><text x="802" y="1355">IKZF2</text></g>
<g id="HBP1" class="n"><circle cx="880" cy="1358" r="25"/><text x="880" y="1365">HBP1</text></g>
<g id="ATP8B1" class="n"><circle cx="998" cy="1350" r="25"/><text x="998" y="1357">ATP8B1</text></g>
<g id="ZNF710" class="n"><circle cx="1279" cy="1351" r="25"/><text x="1279" y="1358">ZNF710</text></g>
<g id="HCFC2" class="n"><circle cx="1204" cy="1403" r="25"/><text x="1204" y="1410">HCFC2</text></g>
<g id="ATRX" class="n"><circle cx="1043" cy="1415" r="25"/><text x="1043" y="1422">ATRX</text></g>
<g id="PHTF2" class="n"><circle cx="943" cy="1430" r="25"/><text x="943" y="1437">PHTF2</text></g>
<g id="ATXN1L" class="n"><circle cx="1134" cy="1432" r="25"/><text x="1134" y="1439">ATXN1L</text></g>
<g id="SATB2" class="n"><circle cx="1244" cy="1466" r="25"/><text x="1244" y="1473">SATB2</text></g>
<g id="SIN3B" class="n"><circle cx="739" cy="1445" r="25"/><text x="739" y="1452">SIN3B</text></g>
<g id="HDAC4" class="n"><circle cx="853" cy="1442" r="25"/><text x="853" y="1449">HDAC4</text></g>
<g id="STAT2" class="n"><circle cx="797" cy="1479" r="25"/><text x="797" y="1486">STAT2</text></g>
<g id="HIPK3" class="n"><circle cx="1074" cy="1500" r="25"/><text x="1074" y="1507">HIPK3</text></g>
<g id="CASK" class="n"><circle cx="1006" cy="1515" r="25"/><text x="1006" y="1522">CASK</text></g>
<g id="SMAD4" class="n"><circle cx="920" cy="1522" r="25"/><text x="920" y="1529">SMAD4</text></g>
<g id="CC2D1A" class="n"><circle cx="1199" cy="1518" r="25"/><text x="1199" y="1525">CC2D1A</text></g>
<g id="TOB1" class="n"><circle cx="759" cy="1560" r="25"/><text x="759" y="1567">TOB1</text></g>
<g id="MIER1" class="n"><circle cx="840" cy="1556" r="25"/><text x="840" y="1563">MIER1</text></g>
<g id="NLK" class="n"><circle cx="1145" cy="1568" r="25"/><text x="1145" y="1575">NLK</text></g>
<g id="TGIF1" class="n"><circle cx="965" cy="1589" r="25"/><text x="965" y="1596">TGIF1</text></g>
<g id="INO80" class="n"><circle cx="1092" cy="1605" r="25"/><text x="1092" y="1612">INO80</text></g>
<g id="PPARGC1B" class="n"><circle cx="887" cy="1620" r="25"/><text x="887" y="1627">PPARGC1B</text></g>
<g id="TAF1" class="n"><circle cx="773" cy="1639" r="25"/><text x="773" y="1646">TAF1</text></g>
<g id="HMGA2" class="n"><circle cx="1022" cy="1640" r="25"/><text x="1022" y="1647">HMGA2</text></g>
<g id="ZBTB4" class="n"><circle cx="1197" cy="1638" r="25"/><text x="1197" y="1645">ZBTB4</text></g>
<g id="LMO2" class="n"><circle cx="815" cy="1706" r="25"/><text x="815" y="1713">LMO2</text></g>
<g id="FRYL" class="n"><circle cx="958" cy="1695" r="25"/><text x="958" y="1702">FRYL</text></g>
</g>
<g id="hubsA">
<g id="hsa-miR-34a-5p" class="h"><use href="#v" transform="translate(493 475) scale(48)"/><text x="493" y="482">hsa-miR-34a-5p</text></g>
<g id="hsa-miR-107" class="h"><use href="#v" transform="translate(1104 120) scale(26 25)"/><text x="1103" y="127">hsa-miR-107</text></g>
<g id="hsa-miR-122-5p" class="h"><use href="#v" transform="translate(1207 554) scale(25 24)"/><text x="1207" y="562">hsa-miR-122-5p</text></g>
<g id="hsa-miR-574-3p" class="h"><use href="#v" transform="translate(126 607) scale(27 25)"/><text x="126" y="615">hsa-miR-574-3p</text></g>
<g id="hsa-miR-19a-3p" class="h"><use href="#v" transform="translate(1060 686) scale(50)"/><text x="1060" y="693">hsa-miR-19a-3p</text></g>
<g id="hsa-miR-192-5p" class="h"><use href="#v" transform="translate(1224 652) scale(33)"/><text x="1224" y="660">hsa-miR-192-5p</text></g>
<g id="hsa-miR-30a-5p" class="h"><use href="#v" transform="translate(1429 657) scale(40)"/><text x="1429" y="666">hsa-miR-30a-5p</text></g>
<g id="hsa-miR-29a-3p" class="h"><use href="#v" transform="translate(903 738) scale(44)"/><text x="903" y="746">hsa-miR-29a-3p</text></g>
<g id="hsa-miR-3132" class="h"><use href="#v" transform="translate(1694 775) scale(25 26)"/><text x="1694" y="782">hsa-miR-3132</text></g>
<g id="hsa-miR-196a-5p" class="h"><use href="#v" transform="translate(1022 824) scale(39)"/><text x="1022" y="831">hsa-miR-196a-5p</text></g>
<g id="hsa-miR-20b-5p" class="h"><use href="#v" transform="translate(89 914) scale(27 26)"/><text x="89" y="922">hsa-miR-20b-5p</text></g>
<g id="hsa-miR-15a-5p" class="h"><use href="#v" transform="translate(632 944) scale(38)"/><text x="632" y="951">hsa-miR-15a-5p</text></g>
<g id="hsa-miR-1246" class="h"><use href="#v" transform="translate(1618 1047) scale(25 24)"/><text x="1618" y="1054">hsa-miR-1246</text></g>
<g id="hsa-miR-29b-3p" class="h"><use href="#v" transform="translate(782 1100) scale(40 39)"/><text x="782" y="1110">hsa-miR-29b-3p</text></g>
<g id="hsa-miR-25-3p" class="h"><use href="#v" transform="translate(1038 1103) scale(47 46)"/><text x="1038" y="1112">hsa-miR-25-3p</text></g>
<g id="hsa-miR-100-5p" class="h"><use href="#v" transform="translate(312 1308) scale(27 26)"/><text x="312" y="1316">hsa-miR-100-5p</text></g>
<g id="hsa-miR-374b-5p" class="h"><use href="#v" transform="translate(1377 1492) scale(26 25)"/><text x="1377" y="1500">hsa-miR-374b-5p</text></g>
<g id="hsa-miR-106b-5p" class="h"><use href="#v" transform="translate(1314 1720) scale(26 25)"/><text x="1314" y="1727">hsa-miR-106b-5p</text></g>
</g>
<g id="nodesB">
<g id="B_PAX7" class="r"><ellipse cx="581" cy="1969" rx="27" ry="25"/><text x="581" y="1976">PAX7</text></g>
<g id="B_BACH2" class="r"><ellipse cx="720" cy="1943" rx="27" ry="25"/><text x="720" y="1950">BACH2</text></g>
<g id="B_DNAJB5" class="r"><ellipse cx="470" cy="2014" rx="27" ry="25"/><text x="470" y="2021">DNAJB5</text></g>
<g id="B_TNKS" class="r"><ellipse cx="830" cy="2035" rx="27" ry="25"/><text x="830" y="2042">TNKS</text></g>
<g id="B_ATF3" class="r"><ellipse cx="985" cy="2017" rx="27" ry="25"/><text x="985" y="2024">ATF3</text></g>
<g id="B_MYOG" class="r"><ellipse cx="432" cy="2092" rx="27" ry="25"/><text x="432" y="2099">MYOG</text></g>
<g id="B_CTNND2" class="r"><ellipse cx="995" cy="2145" rx="27" ry="25"/><text x="995" y="2152">CTNND2</text></g>
<g id="B_ELK1" class="r"><ellipse cx="501" cy="2236" rx="27" ry="25"/><text x="501" y="2243">ELK1</text></g>
<g id="B_MBD2" class="r"><ellipse cx="969" cy="2266" rx="27" ry="25"/><text x="969" y="2273">MBD2</text></g>
<g id="B_CTNNBIP1" class="r"><ellipse cx="643" cy="2298" rx="27" ry="25"/><text x="643" y="2305">CTNNBIP1</text></g>
<g id="B_KLF6" class="r"><ellipse cx="759" cy="2556" rx="27" ry="25"/><text x="759" y="2563">KLF6</text></g>
<g id="B_CXCR3" class="r"><ellipse cx="675" cy="2656" rx="27" ry="25"/><text x="675" y="2663">CXCR3</text></g>
<g id="B_EBF4" class="r"><ellipse cx="785" cy="2718" rx="27" ry="25"/><text x="785" y="2725">EBF4</text></g>
<g id="B_ZNF541" class="r"><ellipse cx="686" cy="2789" rx="27" ry="25"/><text x="686" y="2796">ZNF541</text></g>
<g id="B_WDTC1" class="r"><ellipse cx="937" cy="2762" rx="27" ry="25"/><text x="937" y="2769">WDTC1</text></g>
<g id="B_VAX1" class="r"><ellipse cx="670" cy="2903" rx="27" ry="25"/><text x="670" y="2910">VAX1</text></g>
<g id="B_TRPS1" class="r"><ellipse cx="1138" cy="1843" rx="27" ry="25"/><text x="1138" y="1850">TRPS1</text></g>
<g id="B_JUND" class="r"><ellipse cx="1033" cy="1902" rx="27" ry="25"/><text x="1033" y="1909">JUND</text></g>
<g id="B_SLC26A3" class="r"><ellipse cx="1289" cy="1858" rx="27" ry="25"/><text x="1289" y="1865">SLC26A3</text></g>
<g id="B_CCRN4L" class="r"><ellipse cx="1207" cy="1932" rx="27" ry="25"/><text x="1207" y="1939">CCRN4L</text></g>
<g id="B_TAF4B" class="r"><ellipse cx="1343" cy="1963" rx="27" ry="25"/><text x="1343" y="1970">TAF4B</text></g>
<g id="B_LMO1" class="r"><ellipse cx="1415" cy="2042" rx="27" ry="25"/><text x="1415" y="2049">LMO1</text></g>
<g id="B_PHOX2B" class="r"><ellipse cx="1404" cy="2137" rx="27" ry="25"/><text x="1404" y="2144">PHOX2B</text></g>
<g id="B_PLCB1" class="r"><ellipse cx="1341" cy="2224" rx="27" ry="25"/><text x="1341" y="2231">PLCB1</text></g>
<g id="B_GLIS3" class="r"><ellipse cx="1108" cy="2262" rx="27" ry="25"/><text x="1108" y="2269">GLIS3</text></g>
<g id="B_ELF2" class="r"><ellipse cx="1278" cy="2305" rx="27" ry="25"/><text x="1278" y="2312">ELF2</text></g>
<g id="B_TBX1" class="r"><ellipse cx="1559" cy="2420" rx="27" ry="25"/><text x="1559" y="2427">TBX1</text></g>
<g id="B_ESRRG" class="r"><ellipse cx="1269" cy="2441" rx="27" ry="25"/><text x="1269" y="2448">ESRRG</text></g>
<g id="B_MAFA" class="r"><ellipse cx="1463" cy="2584" rx="27" ry="25"/><text x="1463" y="2591">MAFA</text></g>
<g id="B_HOXA11" class="r"><ellipse cx="1561" cy="2639" rx="27" ry="25"/><text x="1561" y="2646">HOXA11</text></g>
<g id="B_POU3F1" class="r"><ellipse cx="1195" cy="2631" rx="27" ry="25"/><text x="1195" y="2638">POU3F1</text></g>
<g id="B_SOX12" class="r"><ellipse cx="1109" cy="2687" rx="27" ry="25"/><text x="1109" y="2694">SOX12</text></g>
<g id="B_GAST" class="r"><ellipse cx="1562" cy="2748" rx="27" ry="25"/><text x="1562" y="2755">GAST</text></g>
<g id="B_PAX4" class="r"><ellipse cx="1582" cy="2861" rx="27" ry="25"/><text x="1582" y="2868">PAX4</text></g>
<g id="B_GLIS1" class="r"><ellipse cx="1472" cy="2874" rx="27" ry="25"/><text x="1472" y="2881">GLIS1</text></g>
<g id="B_HOXC5" class="r"><ellipse cx="1313" cy="2969" rx="27" ry="25"/><text x="1313" y="2976">HOXC5</text></g>
<g id="B_PPP1R1B" class="r"><ellipse cx="1436" cy="2979" rx="27" ry="25"/><text x="1436" y="2986">PPP1R1B</text></g>
</g>
<g id="hubsB">
<g id="hsa-miR-4459" class="q"><use href="#v" transform="translate(578 1823) scale(27 25)"/><text x="578" y="1830">hsa-miR-4459</text></g>
<g id="hsa-miR-3138" class="q"><use href="#v" transform="translate(330 1880) scale(27 25)"/><text x="330" y="1887">hsa-miR-3138</text></g>
<g id="hsa-miR-4252" class="q"><use href="#v" transform="translate(617 2106) scale(27 25)"/><text x="617" y="2113">hsa-miR-4252</text></g>
<g id="hsa-miR-4465" class="q"><use href="#v" transform="translate(810 2177) scale(27 25)"/><text x="810" y="2184">hsa-miR-4465</text></g>
<g id="hsa-miR-3934-5p" class="q"><use href="#v" transform="translate(810 2337) scale(27 25)"/><text x="810" y="2344">hsa-miR-3934-5p</text></g>
<g id="hsa-miR-3926" class="q"><use href="#v" transform="translate(437 2390) scale(27 25)"/><text x="437" y="2397">hsa-miR-3926</text></g>
<g id="hsa-miR-4430" class="q"><use href="#v" transform="translate(576 2448) scale(27 25)"/><text x="576" y="2455">hsa-miR-4430</text></g>
<g id="hsa-miR-3665" class="q"><use href="#v" transform="translate(810 2451) scale(27 25)"/><text x="810" y="2458">hsa-miR-3665</text></g>
<g id="hsa-miR-4530" class="q"><use href="#v" transform="translate(886 2613) scale(27 25)"/><text x="886" y="2620">hsa-miR-4530</text></g>
<g id="hsa-miR-4443" class="q"><use href="#v" transform="translate(536 2751) scale(27 25)"/><text x="536" y="2758">hsa-miR-4443</text></g>
<g id="hsa-miR-4739" class="q"><use href="#v" transform="translate(836 2890) scale(27 25)"/><text x="836" y="2897">hsa-miR-4739</text></g>
<g id="hsa-miR-494" class="q"><use href="#v" transform="translate(1159 2106) scale(27 25)"/><text x="1159" y="2113">hsa-miR-494</text></g>
<g id="hsa-miR-3195" class="q"><use href="#v" transform="translate(1564 2234) scale(27 25)"/><text x="1564" y="2241">hsa-miR-3195</text></g>
<g id="hsa-miR-574-5p" class="q"><use href="#v" transform="translate(1121 2396) scale(27 25)"/><text x="1121" y="2403">hsa-miR-574-5p</text></g>
<g id="hsa-miR-4281" class="q"><use href="#v" transform="translate(1447 2453) scale(27 25)"/><text x="1447" y="2460">hsa-miR-4281</text></g>
<g id="hsa-miR-4672" class="q"><use href="#v" transform="translate(997 2493) scale(27 25)"/><text x="997" y="2500">hsa-miR-4672</text></g>
<g id="hsa-miR-1207-5p" class="q"><use href="#v" transform="translate(1331 2748) scale(40 39)"/><text x="1331" y="2755">hsa-miR-1207-5p</text></g>
<g id="hsa-miR-762" class="q"><use href="#v" transform="translate(1211 2884) scale(27 25)"/><text x="1211" y="2891">hsa-miR-762</text></g>
<g id="hsa-miR-4721" class="q"><use href="#v" transform="translate(1042 2935) scale(27 25)"/><text x="1042" y="2942">hsa-miR-4721</text></g>
</g>
</svg>
